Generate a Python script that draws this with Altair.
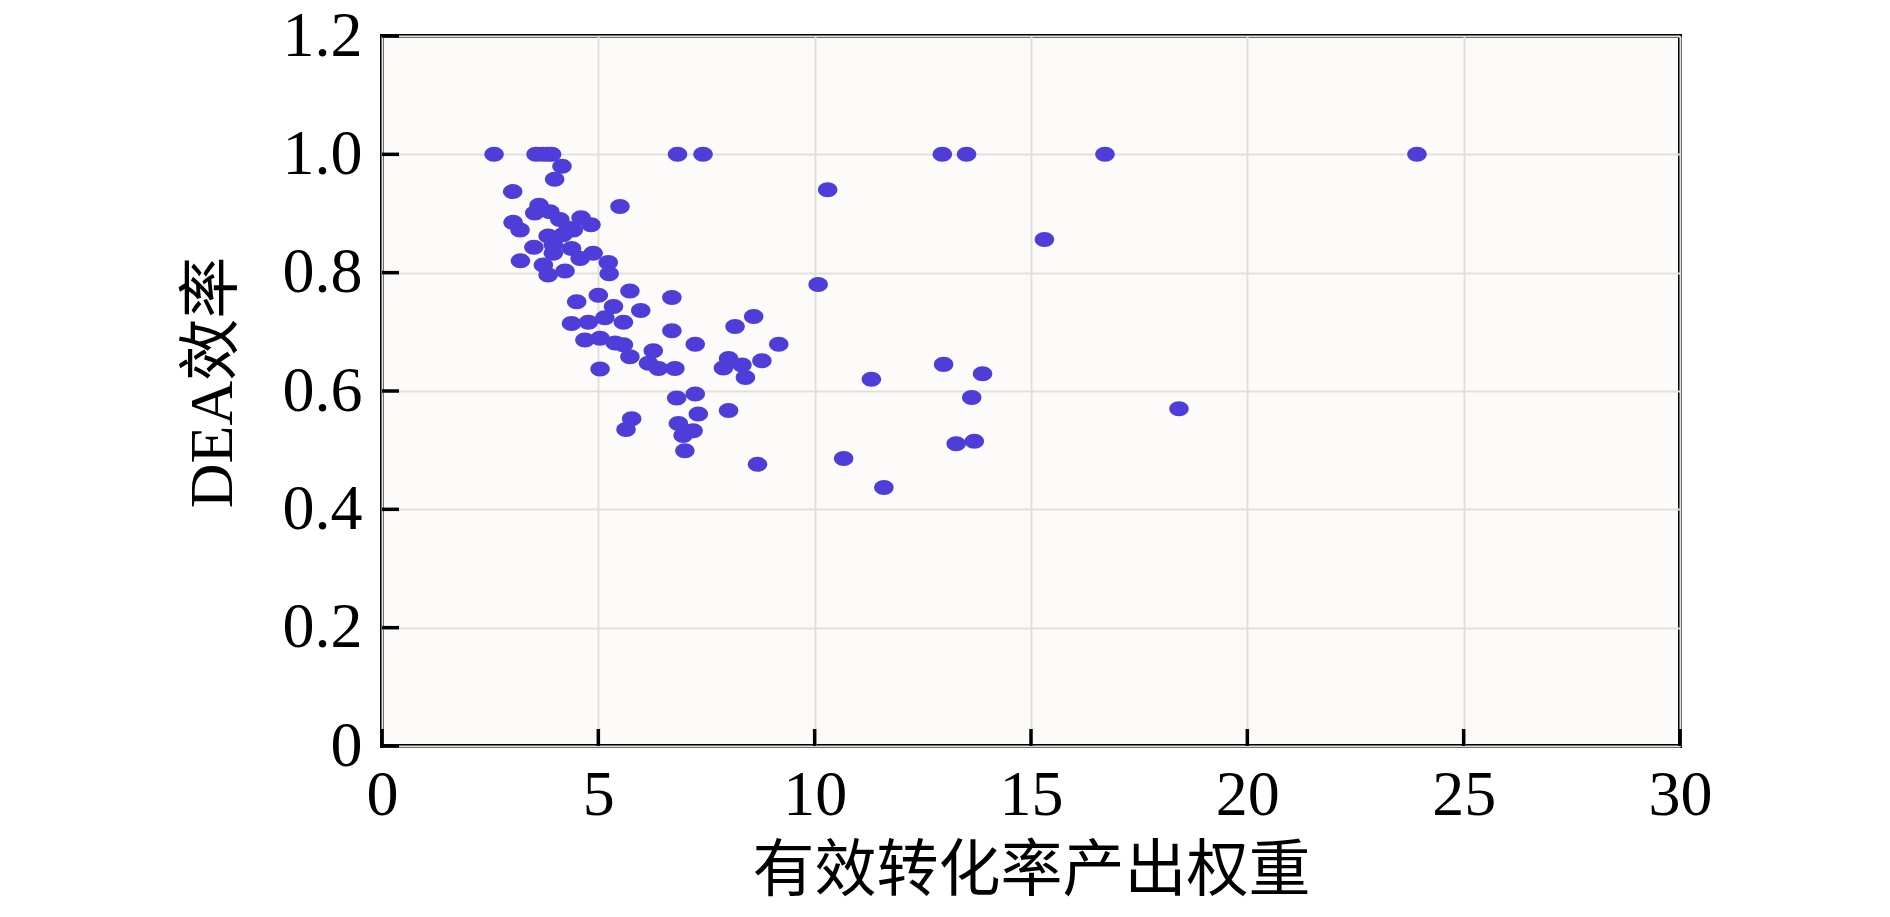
import altair as alt
import pandas as pd

# 有效转化率产出权重 (x) and DEA效率 (y)
weight = [
    2.59, 3.56, 3.71, 3.83, 3.92, 6.83, 7.42, 12.95, 13.51, 16.71, 23.92,
    4.16, 3.99, 3.02, 5.50, 10.30,
    3.63, 3.53, 3.88, 4.11, 4.60, 4.83, 3.03, 3.19, 4.31, 4.42, 3.84, 4.18,
    3.51, 3.96, 4.38, 3.96, 4.88, 4.58, 3.20, 3.73, 3.84, 4.23, 5.23, 5.25,
    15.31, 10.08,
    4.50, 5.00, 5.73, 6.70, 5.35, 5.98,
    4.38, 4.77, 5.15, 5.58, 6.70, 8.16, 8.59,
    4.69, 5.04, 5.39, 5.58, 7.24, 9.17,
    5.73, 6.27, 6.16, 6.39, 6.77, 8.01, 7.89, 8.32, 8.78, 8.40, 5.04,
    12.98, 13.88, 11.31, 13.63, 18.42,
    6.81, 7.24, 7.31, 8.01, 5.77, 5.64, 6.85, 7.19, 6.96, 7.00, 8.68,
    13.27, 13.69, 10.67, 11.60,
]
efficiency = [
    1.0, 1.0, 1.0, 1.0, 1.0, 1.0, 1.0, 1.0, 1.0, 1.0, 1.0,
    0.980, 0.958, 0.937, 0.912, 0.940,
    0.914, 0.901, 0.903, 0.890, 0.893, 0.881, 0.885, 0.872, 0.875, 0.872, 0.862, 0.864,
    0.843, 0.847, 0.841, 0.833, 0.833, 0.824, 0.820, 0.813, 0.796, 0.803, 0.817, 0.798,
    0.856, 0.780,
    0.751, 0.762, 0.769, 0.758, 0.743, 0.736,
    0.714, 0.716, 0.724, 0.716, 0.702, 0.709, 0.726,
    0.686, 0.689, 0.681, 0.678, 0.679, 0.679,
    0.658, 0.668, 0.647, 0.638, 0.638, 0.655, 0.639, 0.644, 0.651, 0.623, 0.637,
    0.645, 0.629, 0.620, 0.589, 0.570,
    0.588, 0.595, 0.561, 0.567, 0.553, 0.535, 0.545, 0.533, 0.525, 0.499, 0.476,
    0.511, 0.515, 0.486, 0.437,
]
x_ticks = [0, 5, 10, 15, 20, 25, 30]
y_ticks = [0, 0.2, 0.4, 0.6, 0.8, 1.0, 1.2]

x_title = "有效转化率产出权重"
y_title = "DEA效率"

W, H = 1298, 710
FONT = '"Liberation Serif", "Noto Sans CJK SC", serif'
TICK_LEN = 17

pts = pd.DataFrame({"w": weight, "e": efficiency})
xs = alt.Scale(domain=[0, 30], nice=False, zero=False)
ys = alt.Scale(domain=[0, 1.2], nice=False, zero=False)

x_axis = alt.Axis(values=x_ticks, titleX=W / 2, titleY=125,
                  titleBaseline="middle", titleAlign="center",
                  labelPadding=17)
y_axis = alt.Axis(values=y_ticks, titleX=-170, titleY=346,
                  titleAngle=270, titleBaseline="middle",
                  titleAlign="center", labelPadding=20,
                  labelExpr="datum.value == 0 ? '0' : format(datum.value, '.1f')")

ellipse = "M-1,0A1,0.77,0,1,1,1,0A1,0.77,0,1,1,-1,0Z"

points = alt.Chart(pts).mark_point(
    shape=ellipse, filled=True, size=380, color="#4e3dd8", opacity=1
).encode(
    x=alt.X("w:Q", scale=xs, title=x_title, axis=x_axis),
    y=alt.Y("e:Q", scale=ys, title=y_title, axis=y_axis),
)

xt = alt.Chart(pd.DataFrame({"w": x_ticks})).mark_rule(
    color="black", strokeWidth=3.5
).encode(
    x=alt.X("w:Q", scale=xs, title=x_title, axis=x_axis),
    y=alt.value(H),
    y2=alt.value(H - TICK_LEN),
)

yt = alt.Chart(pd.DataFrame({"e": y_ticks})).mark_rule(
    color="black", strokeWidth=3.5
).encode(
    y=alt.Y("e:Q", scale=ys, title=y_title, axis=y_axis),
    x=alt.value(0),
    x2=alt.value(TICK_LEN),
)

chart = alt.layer(points, xt, yt).properties(
    width=W,
    height=H,
    padding={"left": 374, "top": 28, "right": 190, "bottom": 160},
    autosize=alt.AutoSizeParams(type="none"),
    background="white",
).configure_view(
    stroke="black", strokeWidth=4, fill="#fcfbf9"
).configure_axis(
    ticks=False,
    tickSize=0,
    domain=False,
    grid=True,
    gridColor="#e1e1d9",
    gridWidth=2,
    labelFont=FONT,
    labelFontSize=64,
    labelColor="black",
    labelFlush=False,
    labelOverlap=False,
    labelBound=False,
    titleFont=FONT,
    titleFontSize=62,
    titleFontWeight="normal",
    titleColor="black",
)

chart.save("out.html", embed_options={"renderer": "svg", "actions": False})
